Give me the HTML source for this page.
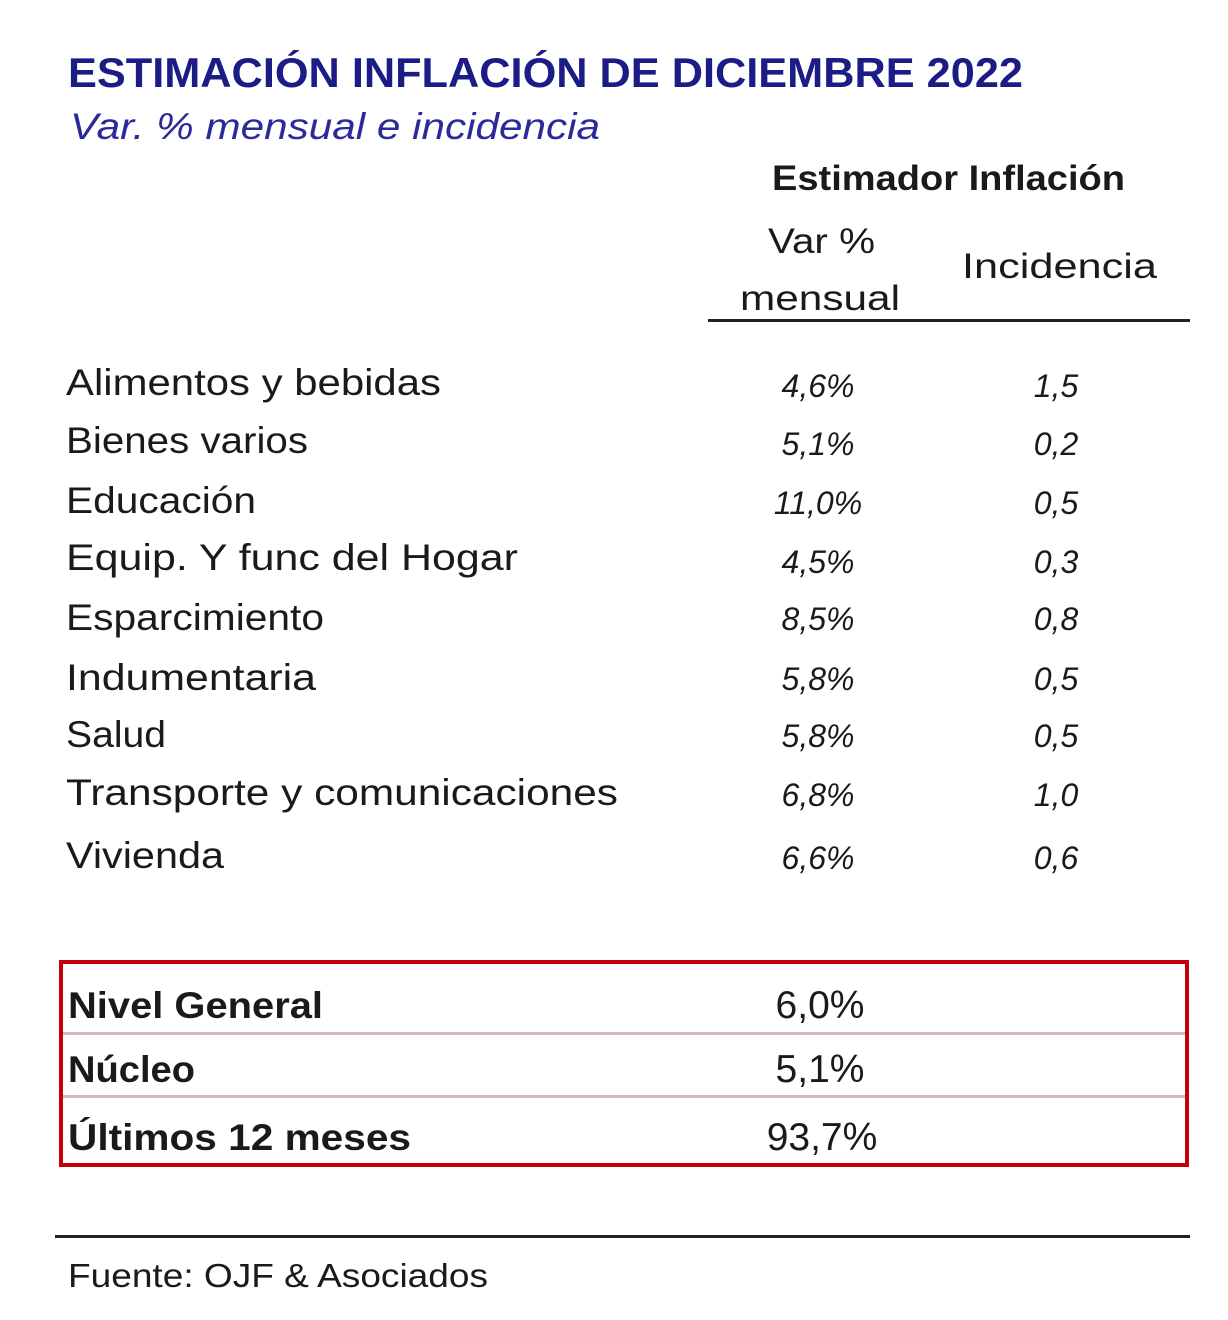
<!DOCTYPE html>
<html><head><meta charset="utf-8"><style>
html,body{margin:0;padding:0;background:#fff;width:1228px;height:1320px;overflow:hidden}
svg{display:block}
text{font-family:"Liberation Sans",sans-serif;fill:#1a1a1a}
.v{font-style:italic;font-size:32px;text-anchor:middle}
.l{font-size:37px}
.b{font-weight:bold;font-size:37px}
</style></head><body>
<svg width="1228" height="1320" viewBox="0 0 1228 1320">
<text x="68" y="87" font-size="42" font-weight="bold" style="fill:#1c1c86" textLength="955" lengthAdjust="spacingAndGlyphs">ESTIMACIÓN INFLACIÓN DE DICIEMBRE 2022</text>
<text x="70" y="139" font-size="37" font-style="italic" style="fill:#2a2a9a" textLength="530" lengthAdjust="spacingAndGlyphs">Var. % mensual e incidencia</text>
<text x="772" y="190" font-size="35" font-weight="bold" textLength="353" lengthAdjust="spacingAndGlyphs">Estimador Inflación</text>
<text x="768" y="253" font-size="35" textLength="107" lengthAdjust="spacingAndGlyphs">Var %</text>
<text x="740" y="310" font-size="35" textLength="160" lengthAdjust="spacingAndGlyphs">mensual</text>
<text x="962" y="278" font-size="35" textLength="195" lengthAdjust="spacingAndGlyphs">Incidencia</text>
<rect x="708" y="319" width="482" height="3" fill="#222"/>

<text class="l" x="66" y="395" textLength="375" lengthAdjust="spacingAndGlyphs">Alimentos y bebidas</text>
<text class="l" x="66" y="453" textLength="242" lengthAdjust="spacingAndGlyphs">Bienes varios</text>
<text class="l" x="66" y="513" textLength="190" lengthAdjust="spacingAndGlyphs">Educación</text>
<text class="l" x="66" y="570" textLength="452" lengthAdjust="spacingAndGlyphs">Equip. Y func del Hogar</text>
<text class="l" x="66" y="630" textLength="258" lengthAdjust="spacingAndGlyphs">Esparcimiento</text>
<text class="l" x="66" y="690" textLength="250" lengthAdjust="spacingAndGlyphs">Indumentaria</text>
<text class="l" x="66" y="747" textLength="100" lengthAdjust="spacingAndGlyphs">Salud</text>
<text class="l" x="66" y="805" textLength="552" lengthAdjust="spacingAndGlyphs">Transporte y comunicaciones</text>
<text class="l" x="66" y="868" textLength="158" lengthAdjust="spacingAndGlyphs">Vivienda</text>

<g>
<text class="v" x="818" y="397">4,6%</text><text class="v" x="1056" y="397">1,5</text>
<text class="v" x="818" y="455">5,1%</text><text class="v" x="1056" y="455">0,2</text>
<text class="v" x="818" y="514">11,0%</text><text class="v" x="1056" y="514">0,5</text>
<text class="v" x="818" y="573">4,5%</text><text class="v" x="1056" y="573">0,3</text>
<text class="v" x="818" y="630">8,5%</text><text class="v" x="1056" y="630">0,8</text>
<text class="v" x="818" y="690">5,8%</text><text class="v" x="1056" y="690">0,5</text>
<text class="v" x="818" y="747">5,8%</text><text class="v" x="1056" y="747">0,5</text>
<text class="v" x="818" y="806">6,8%</text><text class="v" x="1056" y="806">1,0</text>
<text class="v" x="818" y="869">6,6%</text><text class="v" x="1056" y="869">0,6</text>
</g>

<rect x="61" y="962" width="1126" height="203" fill="none" stroke="#c4000a" stroke-width="4"/>
<rect x="63" y="1032" width="1122" height="3" fill="#d8b8bc"/>
<rect x="63" y="1095" width="1122" height="3" fill="#d8b8bc"/>
<text class="b" x="68" y="1018" textLength="255" lengthAdjust="spacingAndGlyphs">Nivel General</text>
<text class="b" x="68" y="1082" textLength="127" lengthAdjust="spacingAndGlyphs">Núcleo</text>
<text class="b" x="68" y="1150" textLength="343" lengthAdjust="spacingAndGlyphs">Últimos 12 meses</text>
<text x="820" y="1018" font-size="39" text-anchor="middle">6,0%</text>
<text x="820" y="1082" font-size="39" text-anchor="middle">5,1%</text>
<text x="822" y="1150" font-size="39" text-anchor="middle">93,7%</text>

<rect x="55" y="1235" width="1135" height="3" fill="#222"/>
<text x="68" y="1287" font-size="33" textLength="420" lengthAdjust="spacingAndGlyphs">Fuente: OJF &amp; Asociados</text>
</svg>
</body></html>
